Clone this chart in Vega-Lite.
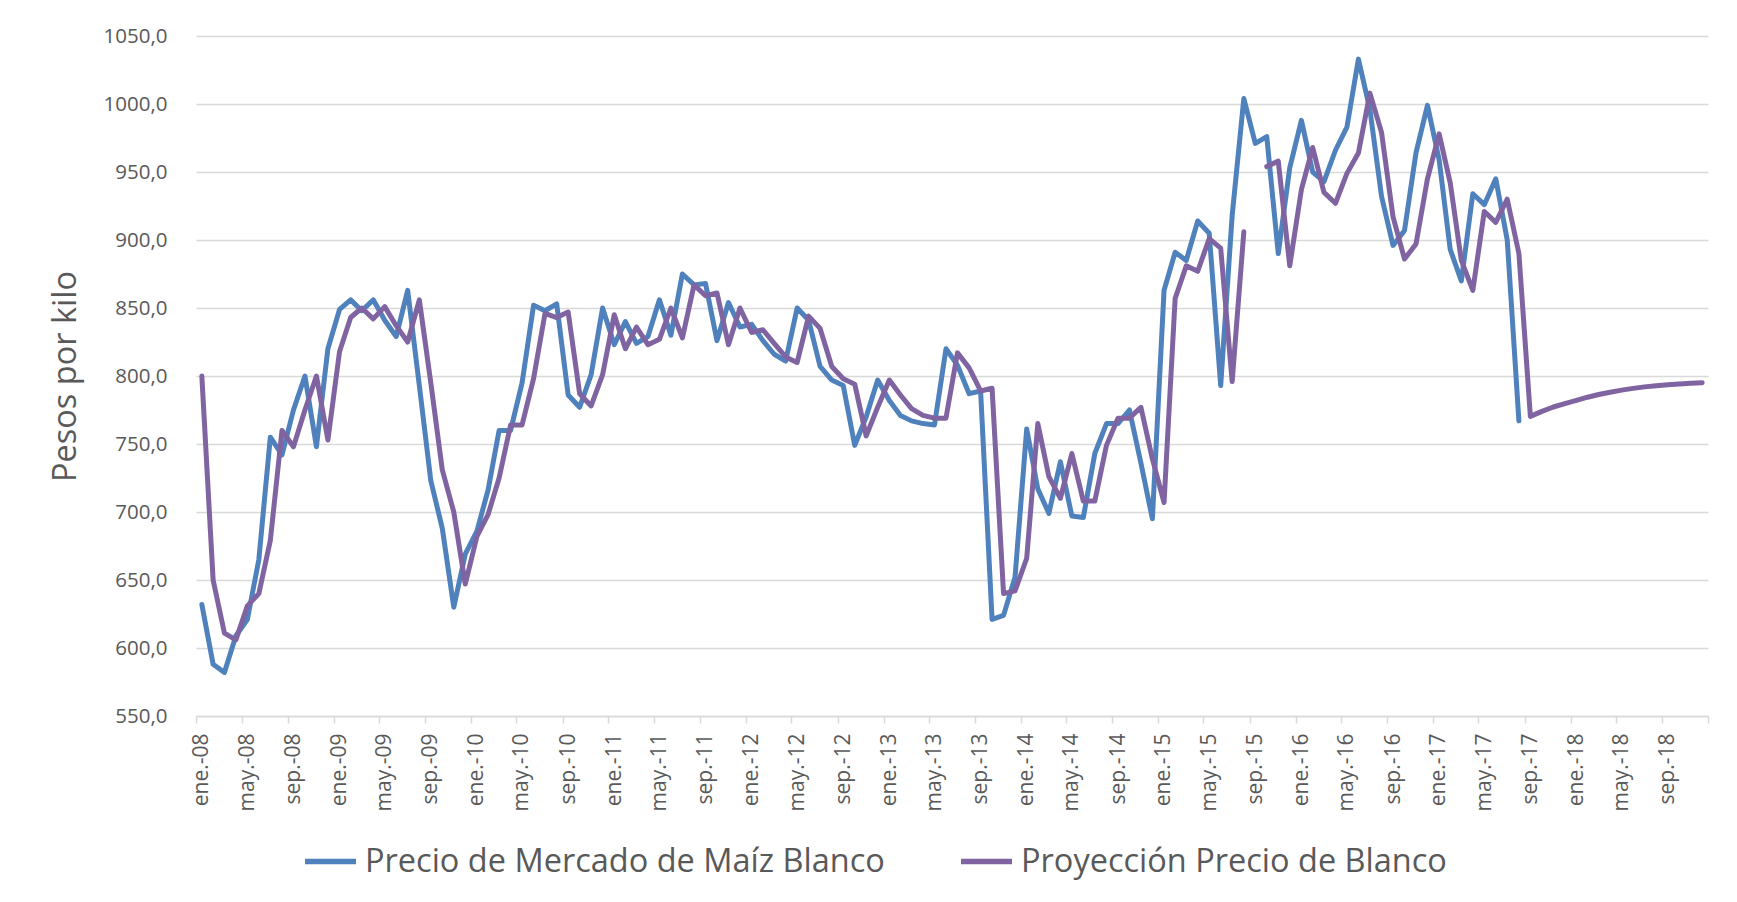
{
  "$schema": "https://vega.github.io/schema/vega-lite/v6.json",
  "width": 1512,
  "height": 680,
  "autosize": {"type": "none"},
  "padding": {"left": 196, "top": 36, "right": 29, "bottom": 186},
  "background": "white",
  "config": {"view": {"stroke": null}, "font": "Open Sans"},
  "datasets": {
    "mercado": [
      {"fecha":"2008-01-01","valor":632},{"fecha":"2008-02-01","valor":588},{"fecha":"2008-03-01","valor":582},{"fecha":"2008-04-01","valor":609},{"fecha":"2008-05-01","valor":621},{"fecha":"2008-06-01","valor":665},{"fecha":"2008-07-01","valor":755},{"fecha":"2008-08-01","valor":742},{"fecha":"2008-09-01","valor":775},{"fecha":"2008-10-01","valor":800},{"fecha":"2008-11-01","valor":748},{"fecha":"2008-12-01","valor":820},
      {"fecha":"2009-01-01","valor":849},{"fecha":"2009-02-01","valor":856},{"fecha":"2009-03-01","valor":848},{"fecha":"2009-04-01","valor":856},{"fecha":"2009-05-01","valor":841},{"fecha":"2009-06-01","valor":829},{"fecha":"2009-07-01","valor":863},{"fecha":"2009-08-01","valor":793},{"fecha":"2009-09-01","valor":723},{"fecha":"2009-10-01","valor":688},{"fecha":"2009-11-01","valor":630},{"fecha":"2009-12-01","valor":669},
      {"fecha":"2010-01-01","valor":686},{"fecha":"2010-02-01","valor":716},{"fecha":"2010-03-01","valor":760},{"fecha":"2010-04-01","valor":760},{"fecha":"2010-05-01","valor":795},{"fecha":"2010-06-01","valor":852},{"fecha":"2010-07-01","valor":848},{"fecha":"2010-08-01","valor":853},{"fecha":"2010-09-01","valor":786},{"fecha":"2010-10-01","valor":777},{"fecha":"2010-11-01","valor":801},{"fecha":"2010-12-01","valor":850},
      {"fecha":"2011-01-01","valor":823},{"fecha":"2011-02-01","valor":840},{"fecha":"2011-03-01","valor":824},{"fecha":"2011-04-01","valor":829},{"fecha":"2011-05-01","valor":856},{"fecha":"2011-06-01","valor":830},{"fecha":"2011-07-01","valor":875},{"fecha":"2011-08-01","valor":867},{"fecha":"2011-09-01","valor":868},{"fecha":"2011-10-01","valor":826},{"fecha":"2011-11-01","valor":854},{"fecha":"2011-12-01","valor":836},
      {"fecha":"2012-01-01","valor":838},{"fecha":"2012-02-01","valor":826},{"fecha":"2012-03-01","valor":816},{"fecha":"2012-04-01","valor":811},{"fecha":"2012-05-01","valor":850},{"fecha":"2012-06-01","valor":841},{"fecha":"2012-07-01","valor":807},{"fecha":"2012-08-01","valor":797},{"fecha":"2012-09-01","valor":793},{"fecha":"2012-10-01","valor":749},{"fecha":"2012-11-01","valor":770},{"fecha":"2012-12-01","valor":797},
      {"fecha":"2013-01-01","valor":782},{"fecha":"2013-02-01","valor":771},{"fecha":"2013-03-01","valor":767},{"fecha":"2013-04-01","valor":765},{"fecha":"2013-05-01","valor":764},{"fecha":"2013-06-01","valor":820},{"fecha":"2013-07-01","valor":808},{"fecha":"2013-08-01","valor":787},{"fecha":"2013-09-01","valor":789},{"fecha":"2013-10-01","valor":621},{"fecha":"2013-11-01","valor":624},{"fecha":"2013-12-01","valor":652},
      {"fecha":"2014-01-01","valor":761},{"fecha":"2014-02-01","valor":717},{"fecha":"2014-03-01","valor":699},{"fecha":"2014-04-01","valor":737},{"fecha":"2014-05-01","valor":697},{"fecha":"2014-06-01","valor":696},{"fecha":"2014-07-01","valor":743},{"fecha":"2014-08-01","valor":765},{"fecha":"2014-09-01","valor":765},{"fecha":"2014-10-01","valor":775},{"fecha":"2014-11-01","valor":736},{"fecha":"2014-12-01","valor":695},
      {"fecha":"2015-01-01","valor":863},{"fecha":"2015-02-01","valor":891},{"fecha":"2015-03-01","valor":885},{"fecha":"2015-04-01","valor":914},{"fecha":"2015-05-01","valor":905},{"fecha":"2015-06-01","valor":793},{"fecha":"2015-07-01","valor":918},{"fecha":"2015-08-01","valor":1004},{"fecha":"2015-09-01","valor":971},{"fecha":"2015-10-01","valor":976},{"fecha":"2015-11-01","valor":890},{"fecha":"2015-12-01","valor":953},
      {"fecha":"2016-01-01","valor":988},{"fecha":"2016-02-01","valor":950},{"fecha":"2016-03-01","valor":943},{"fecha":"2016-04-01","valor":966},{"fecha":"2016-05-01","valor":983},{"fecha":"2016-06-01","valor":1033},{"fecha":"2016-07-01","valor":996},{"fecha":"2016-08-01","valor":932},{"fecha":"2016-09-01","valor":896},{"fecha":"2016-10-01","valor":907},{"fecha":"2016-11-01","valor":964},{"fecha":"2016-12-01","valor":999},
      {"fecha":"2017-01-01","valor":959},{"fecha":"2017-02-01","valor":893},{"fecha":"2017-03-01","valor":870},{"fecha":"2017-04-01","valor":934},{"fecha":"2017-05-01","valor":926},{"fecha":"2017-06-01","valor":945},{"fecha":"2017-07-01","valor":900},{"fecha":"2017-08-01","valor":767}
    ],
    "proyeccion": [
      {"fecha":"2008-01-01","valor":800,"tramo":"a"},{"fecha":"2008-02-01","valor":650,"tramo":"a"},{"fecha":"2008-03-01","valor":611,"tramo":"a"},{"fecha":"2008-04-01","valor":606,"tramo":"a"},{"fecha":"2008-05-01","valor":631,"tramo":"a"},{"fecha":"2008-06-01","valor":640,"tramo":"a"},{"fecha":"2008-07-01","valor":679,"tramo":"a"},{"fecha":"2008-08-01","valor":760,"tramo":"a"},{"fecha":"2008-09-01","valor":748,"tramo":"a"},{"fecha":"2008-10-01","valor":775,"tramo":"a"},{"fecha":"2008-11-01","valor":800,"tramo":"a"},{"fecha":"2008-12-01","valor":753,"tramo":"a"},
      {"fecha":"2009-01-01","valor":818,"tramo":"a"},{"fecha":"2009-02-01","valor":843,"tramo":"a"},{"fecha":"2009-03-01","valor":850,"tramo":"a"},{"fecha":"2009-04-01","valor":842,"tramo":"a"},{"fecha":"2009-05-01","valor":851,"tramo":"a"},{"fecha":"2009-06-01","valor":837,"tramo":"a"},{"fecha":"2009-07-01","valor":825,"tramo":"a"},{"fecha":"2009-08-01","valor":856,"tramo":"a"},{"fecha":"2009-09-01","valor":795,"tramo":"a"},{"fecha":"2009-10-01","valor":731,"tramo":"a"},{"fecha":"2009-11-01","valor":700,"tramo":"a"},{"fecha":"2009-12-01","valor":647,"tramo":"a"},
      {"fecha":"2010-01-01","valor":682,"tramo":"a"},{"fecha":"2010-02-01","valor":698,"tramo":"a"},{"fecha":"2010-03-01","valor":725,"tramo":"a"},{"fecha":"2010-04-01","valor":764,"tramo":"a"},{"fecha":"2010-05-01","valor":764,"tramo":"a"},{"fecha":"2010-06-01","valor":798,"tramo":"a"},{"fecha":"2010-07-01","valor":846,"tramo":"a"},{"fecha":"2010-08-01","valor":843,"tramo":"a"},{"fecha":"2010-09-01","valor":847,"tramo":"a"},{"fecha":"2010-10-01","valor":787,"tramo":"a"},{"fecha":"2010-11-01","valor":778,"tramo":"a"},{"fecha":"2010-12-01","valor":801,"tramo":"a"},
      {"fecha":"2011-01-01","valor":845,"tramo":"a"},{"fecha":"2011-02-01","valor":820,"tramo":"a"},{"fecha":"2011-03-01","valor":836,"tramo":"a"},{"fecha":"2011-04-01","valor":823,"tramo":"a"},{"fecha":"2011-05-01","valor":827,"tramo":"a"},{"fecha":"2011-06-01","valor":850,"tramo":"a"},{"fecha":"2011-07-01","valor":828,"tramo":"a"},{"fecha":"2011-08-01","valor":867,"tramo":"a"},{"fecha":"2011-09-01","valor":859,"tramo":"a"},{"fecha":"2011-10-01","valor":861,"tramo":"a"},{"fecha":"2011-11-01","valor":823,"tramo":"a"},{"fecha":"2011-12-01","valor":850,"tramo":"a"},
      {"fecha":"2012-01-01","valor":832,"tramo":"a"},{"fecha":"2012-02-01","valor":834,"tramo":"a"},{"fecha":"2012-03-01","valor":824,"tramo":"a"},{"fecha":"2012-04-01","valor":814,"tramo":"a"},{"fecha":"2012-05-01","valor":810,"tramo":"a"},{"fecha":"2012-06-01","valor":844,"tramo":"a"},{"fecha":"2012-07-01","valor":835,"tramo":"a"},{"fecha":"2012-08-01","valor":807,"tramo":"a"},{"fecha":"2012-09-01","valor":798,"tramo":"a"},{"fecha":"2012-10-01","valor":794,"tramo":"a"},{"fecha":"2012-11-01","valor":756,"tramo":"a"},{"fecha":"2012-12-01","valor":777,"tramo":"a"},
      {"fecha":"2013-01-01","valor":797,"tramo":"a"},{"fecha":"2013-02-01","valor":786,"tramo":"a"},{"fecha":"2013-03-01","valor":776,"tramo":"a"},{"fecha":"2013-04-01","valor":771,"tramo":"a"},{"fecha":"2013-05-01","valor":769,"tramo":"a"},{"fecha":"2013-06-01","valor":769,"tramo":"a"},{"fecha":"2013-07-01","valor":817,"tramo":"a"},{"fecha":"2013-08-01","valor":806,"tramo":"a"},{"fecha":"2013-09-01","valor":789,"tramo":"a"},{"fecha":"2013-10-01","valor":791,"tramo":"a"},{"fecha":"2013-11-01","valor":640,"tramo":"a"},{"fecha":"2013-12-01","valor":642,"tramo":"a"},
      {"fecha":"2014-01-01","valor":666,"tramo":"a"},{"fecha":"2014-02-01","valor":765,"tramo":"a"},{"fecha":"2014-03-01","valor":726,"tramo":"a"},{"fecha":"2014-04-01","valor":710,"tramo":"a"},{"fecha":"2014-05-01","valor":743,"tramo":"a"},{"fecha":"2014-06-01","valor":708,"tramo":"a"},{"fecha":"2014-07-01","valor":708,"tramo":"a"},{"fecha":"2014-08-01","valor":749,"tramo":"a"},{"fecha":"2014-09-01","valor":769,"tramo":"a"},{"fecha":"2014-10-01","valor":769,"tramo":"a"},{"fecha":"2014-11-01","valor":777,"tramo":"a"},{"fecha":"2014-12-01","valor":739,"tramo":"a"},
      {"fecha":"2015-01-01","valor":707,"tramo":"a"},{"fecha":"2015-02-01","valor":857,"tramo":"a"},{"fecha":"2015-03-01","valor":881,"tramo":"a"},{"fecha":"2015-04-01","valor":877,"tramo":"a"},{"fecha":"2015-05-01","valor":901,"tramo":"a"},{"fecha":"2015-06-01","valor":894,"tramo":"a"},{"fecha":"2015-07-01","valor":796,"tramo":"a"},{"fecha":"2015-08-01","valor":906,"tramo":"a"},{"fecha":"2015-10-01","valor":954,"tramo":"b"},{"fecha":"2015-11-01","valor":958,"tramo":"b"},{"fecha":"2015-12-01","valor":881,"tramo":"b"},
      {"fecha":"2016-01-01","valor":937,"tramo":"b"},{"fecha":"2016-02-01","valor":968,"tramo":"b"},{"fecha":"2016-03-01","valor":935,"tramo":"b"},{"fecha":"2016-04-01","valor":927,"tramo":"b"},{"fecha":"2016-05-01","valor":949,"tramo":"b"},{"fecha":"2016-06-01","valor":964,"tramo":"b"},{"fecha":"2016-07-01","valor":1008,"tramo":"b"},{"fecha":"2016-08-01","valor":979,"tramo":"b"},{"fecha":"2016-09-01","valor":917,"tramo":"b"},{"fecha":"2016-10-01","valor":886,"tramo":"b"},{"fecha":"2016-11-01","valor":897,"tramo":"b"},{"fecha":"2016-12-01","valor":945,"tramo":"b"},
      {"fecha":"2017-01-01","valor":978,"tramo":"b"},{"fecha":"2017-02-01","valor":942,"tramo":"b"},{"fecha":"2017-03-01","valor":885,"tramo":"b"},{"fecha":"2017-04-01","valor":863,"tramo":"b"},{"fecha":"2017-05-01","valor":921,"tramo":"b"},{"fecha":"2017-06-01","valor":913,"tramo":"b"},{"fecha":"2017-07-01","valor":930,"tramo":"b"},{"fecha":"2017-08-01","valor":890,"tramo":"b"},{"fecha":"2017-09-01","valor":770.3,"tramo":"b"},{"fecha":"2017-10-01","valor":774.0,"tramo":"b"},{"fecha":"2017-11-01","valor":777.2,"tramo":"b"},{"fecha":"2017-12-01","valor":779.7,"tramo":"b"},
      {"fecha":"2018-01-01","valor":782.1,"tramo":"b"},{"fecha":"2018-02-01","valor":784.4,"tramo":"b"},{"fecha":"2018-03-01","valor":786.4,"tramo":"b"},{"fecha":"2018-04-01","valor":788.1,"tramo":"b"},{"fecha":"2018-05-01","valor":789.6,"tramo":"b"},{"fecha":"2018-06-01","valor":790.9,"tramo":"b"},{"fecha":"2018-07-01","valor":792.0,"tramo":"b"},{"fecha":"2018-08-01","valor":792.9,"tramo":"b"},{"fecha":"2018-09-01","valor":793.6,"tramo":"b"},{"fecha":"2018-10-01","valor":794.2,"tramo":"b"},{"fecha":"2018-11-01","valor":794.7,"tramo":"b"},{"fecha":"2018-12-01","valor":795.1,"tramo":"b"}
    ]
  },
  "encoding": {
    "x": {
      "field": "fecha",
      "type": "temporal",
      "timeUnit": "utcyearmonth",
      "bandPosition": 0.5,
      "scale": {"type": "utc", "domain": [{"year": 2008, "month": 1, "date": 1, "utc": true}, {"year": 2019, "month": 1, "date": 1, "utc": true}], "nice": false},
      "axis": {
        "title": null,
        "tickCount": {"interval": "month", "step": 4},
        "labelExpr": "utcyear(datum.value) >= 2019 ? '' : ['ene.','feb.','mar.','abr.','may.','jun.','jul.','ago.','sep.','oct.','nov.','dic.'][utcmonth(datum.value)] + '-' + utcFormat(datum.value, '%y')",
        "labelAngle": 270,
        "labelFontSize": 21,
        "labelColor": "#595959",
        "labelOffset": 5.7,
        "labelPadding": 10,
        "labelOverlap": false,
        "labelFlush": false,
        "labelBound": false,
        "tickSize": 7,
        "tickColor": "#D9D9D9",
        "tickWidth": 1.5,
        "domainColor": "#D9D9D9",
        "domainWidth": 1.5,
        "grid": false
      }
    },
    "y": {
      "field": "valor",
      "type": "quantitative",
      "scale": {"domain": [550, 1050], "nice": false, "zero": false},
      "axis": {
        "values": [550, 600, 650, 700, 750, 800, 850, 900, 950, 1000, 1050],
        "labelExpr": "replace(format(datum.value, '.1f'), '.', ',')",
        "labelFontSize": 20.5,
        "labelColor": "#595959",
        "labelPadding": 29,
        "domain": false,
        "ticks": false,
        "grid": true,
        "gridColor": "#D9D9D9",
        "gridWidth": 1.5,
        "title": "Pesos por kilo",
        "titleFontSize": 32.5,
        "titleFontWeight": "normal",
        "titleColor": "#595959",
        "titlePadding": 21
      }
    }
  },
  "layer": [
    {
      "data": {"name": "mercado"},
      "mark": {"type": "line", "strokeWidth": 5, "strokeJoin": "round", "strokeCap": "round"},
      "encoding": {
        "color": {
          "datum": "Precio de Mercado de Maíz Blanco",
          "type": "nominal",
          "scale": {"domain": ["Precio de Mercado de Maíz Blanco", "Proyección Precio de Blanco"], "range": ["#4F81BD", "#8064A2"]},
          "legend": {
            "orient": "none",
            "legendX": 106,
            "legendY": 797,
            "direction": "horizontal",
            "title": null,
            "padding": 0,
            "symbolType": "stroke",
            "symbolSize": 2600,
            "symbolStrokeWidth": 5.5,
            "labelFontSize": 32.5,
            "labelColor": "#595959",
            "labelOffset": 6,
            "labelLimit": 0,
            "columnPadding": 65
          }
        }
      }
    },
    {
      "data": {"name": "proyeccion"},
      "mark": {"type": "line", "strokeWidth": 5, "strokeJoin": "round", "strokeCap": "round"},
      "encoding": {
        "color": {"datum": "Proyección Precio de Blanco", "type": "nominal"},
        "detail": {"field": "tramo", "type": "nominal"}
      }
    }
  ]
}
